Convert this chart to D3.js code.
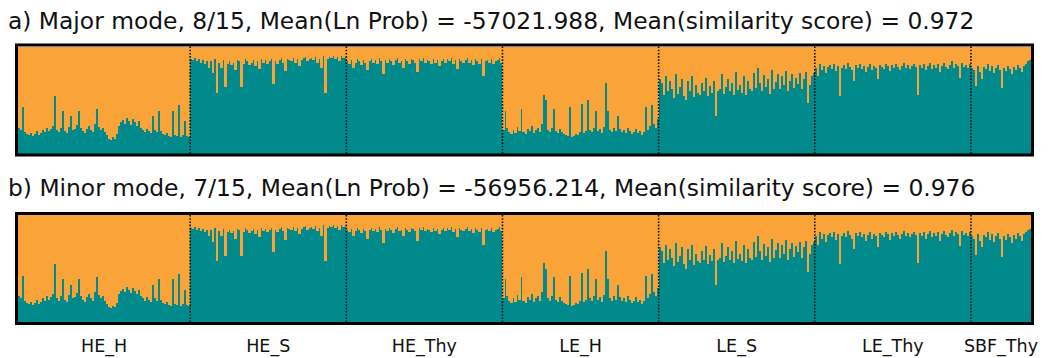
<!DOCTYPE html>
<html>
<head>
<meta charset="utf-8">
<script src="https://cdn.jsdelivr.net/npm/d3@7"></script>
<style>
  html, body { margin: 0; padding: 0; background: #fff; }
  svg { display: block; }
  text { font-family: "DejaVu Sans", Verdana, sans-serif; fill: #111; }
</style>
</head>
<body>
<svg id="chart" width="1049" height="358"></svg>
<script>
// Populations, in plotting order
const groups = ["HE_H", "HE_S", "HE_Thy", "LE_H", "LE_S", "LE_Thy", "SBF_Thy"];

// Cluster-1 membership (%) of each individual, per population (K = 2)
const qHE_H = [24,22,43,20,18,17,19,16,18,21,17,19,22,20,24,21,23,26,54,22,
               20,24,40,21,19,25,35,22,23,27,40,24,21,19,23,26,22,20,28,42,
               25,22,24,20,17,14,13,15,14,18,26,29,31,28,33,30,27,32,29,26,
               30,24,22,20,23,21,19,35,22,20,40,21,18,17,19,16,15,40,17,16,
               45,15,17,30,16,15];
const qHE_S = [88,87,89,86,88,85,87,84,86,80,86,75,88,57,85,80,87,62,84,86,
               83,85,78,87,86,62,84,88,86,83,85,87,82,86,79,88,85,87,84,86,
               88,65,86,84,87,89,85,77,88,87,86,89,85,88,82,87,89,90,86,88,
               89,87,90,85,88,80,91,57,88,90,89,91,88,90,86,91,89,90];
const qHE_Thy = [86,84,87,80,85,88,86,83,87,85,78,86,88,85,87,84,89,86,74,87,
                 85,88,86,83,87,89,85,86,80,88,86,84,88,87,85,76,88,86,89,85,
                 87,86,84,88,85,87,82,86,88,85,88,86,89,84,87,79,88,86,85,87,
                 89,85,87,83,88,86,84,88,72,86,87,85,88,84,86,87,89,85];
const qLE_H = [22,40,24,20,18,22,19,25,21,42,20,18,23,21,26,19,22,24,20,28,
               55,50,22,20,24,42,21,19,23,20,18,17,16,43,15,16,18,17,20,46,
               19,21,50,22,20,24,40,21,23,19,25,66,40,22,20,24,21,35,23,20,
               22,19,24,21,18,20,23,19,21,17,20,43,22,26,45,28,24,32];
const qLE_S = [70,66,55,72,58,68,60,52,74,56,62,70,54,50,68,58,72,53,64,57,
               55,66,58,71,54,63,57,68,35,58,60,74,56,62,70,58,66,55,76,59,
               64,57,72,55,68,60,58,75,61,80,66,58,73,62,70,56,78,60,67,74,
               60,72,64,77,58,68,74,61,71,65,75,60,70,76,47,64,72,75];
const qLE_Thy = [80,72,84,78,82,75,81,83,79,84,77,82,54,80,83,79,85,81,78,68,
                 83,80,84,79,82,76,81,84,78,82,80,70,83,81,79,84,82,77,83,80,
                 84,81,78,82,85,80,83,79,82,84,81,55,83,80,84,78,82,85,79,83,
                 80,84,76,82,85,81,79,83,86,80,84,82,71,85,81,83,80,84];
const qSBF_Thy = [80,78,63,82,76,70,81,79,84,77,82,75,80,83,78,61,80,77,82,79,
                  74,81,78,83,80,76,82,84,86,87];

const memberships = [qHE_H, qHE_S, qHE_Thy, qLE_H, qLE_S, qLE_Thy, qSBF_Thy];

// Mode summaries (CLUMPAK)
const modeTitles = [
  "a) Major mode, 8/15, Mean(Ln Prob) = -57021.988, Mean(similarity score) = 0.972",
  "b) Minor mode, 7/15, Mean(Ln Prob) = -56956.214, Mean(similarity score) = 0.976"
];

const clusterKeys = ["k1", "k2"];
const clusterColors = ["#008a8c", "#f9a338"];

// ---- build per-individual rows ----
const rows = [];
groups.forEach((g, gi) => {
  memberships[gi].forEach((v, i) => {
    rows.push({ id: g + "_" + i, group: g, k1: v / 100, k2: 1 - v / 100 });
  });
});

const svg = d3.select("#chart");
const left = 18, right = 1031;
const x = d3.scaleBand().domain(rows.map(d => d.id)).range([left, right]).paddingInner(0);
const stacked = d3.stack().keys(clusterKeys)(rows);
const color = d3.scaleOrdinal().domain(clusterKeys).range(clusterColors);

// group boundaries and centres
const bounds = groups.map(g => {
  const ids = rows.filter(d => d.group === g).map(d => d.id);
  return { group: g, x0: x(ids[0]), x1: x(ids[ids.length - 1]) + x.bandwidth() };
});

const panels = [
  { top: 46.5, bottom: 153.5, titleY: 29 },
  { top: 215, bottom: 322, titleY: 196 }
];

// fit title font to its line width
const probe = svg.append("text").attr("font-size", 22).text(modeTitles[0]);
const titleSize = 22 * 967 / probe.node().getComputedTextLength();
probe.remove();

panels.forEach((p, pi) => {
  const y = d3.scaleLinear().domain([0, 1]).range([p.bottom, p.top]);
  const gPanel = svg.append("g");

  gPanel.selectAll("g.layer")
    .data(stacked)
    .join("g")
    .attr("class", "layer")
    .attr("fill", d => color(d.key))
    .selectAll("rect")
    .data(d => d)
    .join("rect")
    .attr("x", d => x(d.data.id))
    .attr("width", x.bandwidth() + 0.3)
    .attr("y", d => y(d[1]))
    .attr("height", d => y(d[0]) - y(d[1]))
    .attr("shape-rendering", "crispEdges");

  // dotted separators between populations
  gPanel.selectAll("line.sep")
    .data(bounds.slice(1))
    .join("line")
    .attr("class", "sep")
    .attr("x1", d => d.x0).attr("x2", d => d.x0)
    .attr("y1", p.top).attr("y2", p.bottom)
    .attr("stroke", "#111")
    .attr("stroke-width", 1.6)
    .attr("stroke-dasharray", "1.6,1.6");

  // frame
  gPanel.append("rect")
    .attr("x", left - 1.5)
    .attr("y", p.top - 1.5)
    .attr("width", right - left + 3)
    .attr("height", p.bottom - p.top + 3)
    .attr("fill", "none")
    .attr("stroke", "#000")
    .attr("stroke-width", 3);

  svg.append("text")
    .attr("x", 8)
    .attr("y", p.titleY)
    .attr("font-size", titleSize)
    .text(modeTitles[pi]);
});

// population labels
svg.selectAll("text.pop")
  .data(bounds)
  .join("text")
  .attr("class", "pop")
  .attr("x", d => (d.x0 + d.x1) / 2)
  .attr("y", 352)
  .attr("text-anchor", "middle")
  .attr("font-size", 17.5)
  .text(d => d.group);
</script>
</body>
</html>
